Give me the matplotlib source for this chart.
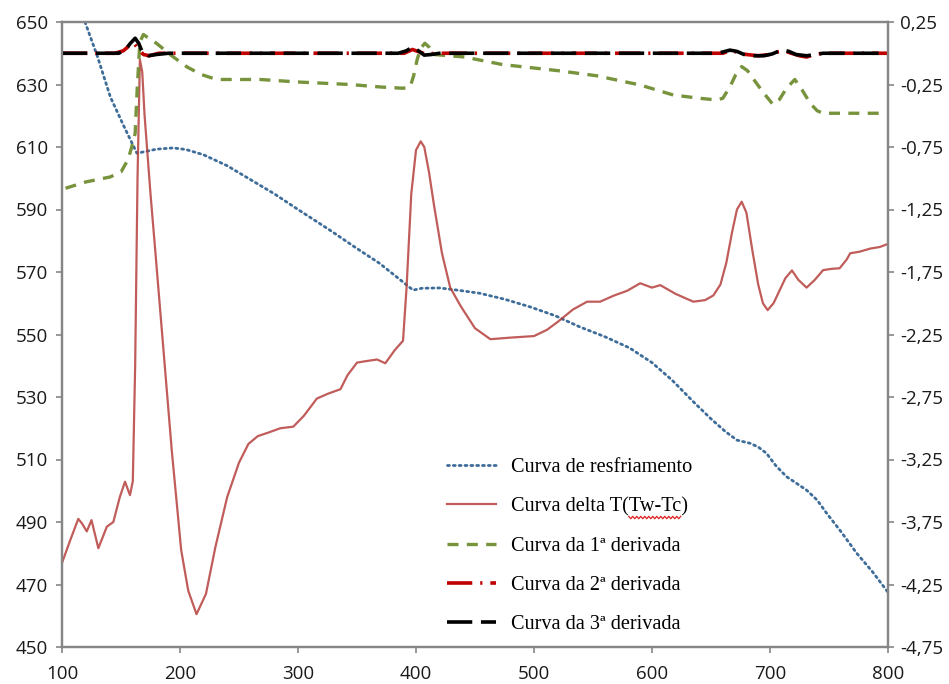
import numpy as np
import matplotlib
matplotlib.use("Agg")
import matplotlib.pyplot as plt
from matplotlib.lines import Line2D
from matplotlib.transforms import IdentityTransform

# --- cooling curve (left axis, temperature) ---
cooling_x = [119.5, 130, 141, 152, 163.5, 170, 180, 194, 205, 220, 240, 260, 280, 300,
             327, 350, 369, 385, 397.5, 405, 420, 435, 454, 475, 497, 518, 539, 560,
             581, 600, 617, 635, 650, 662, 672, 683, 690, 697, 705, 714, 722, 731,
             740, 748, 760, 773.5, 787, 800]
cooling_y = [650, 639, 626, 617, 608, 608.5, 609.3, 609.7, 609.2, 607.5, 604, 599.5, 595, 590,
             583.4, 577.5, 572.8, 568, 564.2, 564.8, 564.9, 564.2, 563.2, 561.3, 558.8, 556, 552.4, 549.3,
             545.7, 541, 535.4, 528.5, 523, 519, 516.2, 515.2, 514, 512, 508, 504.5, 502.5, 500.2,
             497, 492.8, 487, 480, 474, 467.5]

# --- delta T (Tw - Tc) curve (left axis) ---
delta_x = [100, 106.8, 113.8, 117, 121, 125, 130.8, 138, 143.5, 149, 153.4, 157.6, 160, 162,
           164, 166, 168, 170, 175, 179, 186, 193, 201, 207, 214, 222, 230, 240, 250, 258, 266, 274,
           285, 296, 305, 316, 325, 336, 342, 350, 358, 367, 374, 382, 389, 392, 396, 400,
           404, 407, 411, 415, 422, 429, 438, 450, 463, 480, 500, 511, 520, 533, 545, 556,
           568, 579, 590, 600, 607, 620, 635, 645, 652, 658, 663, 668, 672, 676, 680, 685,
           690, 694, 698, 703, 708, 713, 718.6, 724, 731, 738, 745, 752, 759, 765, 768,
           776, 785, 793, 800]
delta_y = [476.9, 484, 491, 489.5, 487, 490.6, 481.6, 488.5, 490, 498, 502.9, 498.6, 503, 540,
           600, 638, 634, 620, 595, 577, 545, 513, 481, 468, 460.5, 467, 482, 498, 509, 515, 517.5, 518.5,
           520, 520.5, 524, 529.5, 531, 532.5, 537, 541, 541.5, 542, 540.8, 545, 548, 565, 595, 609,
           611.8, 610, 602, 592, 576, 565, 559, 552, 548.5, 549, 549.5, 551.5, 554, 558, 560.5, 560.5,
           562.5, 564, 566.4, 565, 565.8, 563, 560.5, 561, 562.5, 566, 573, 583, 590, 592.5, 589, 577,
           566, 560, 557.8, 560, 564, 568, 570.5, 567.5, 565, 567.5, 570.6, 571, 571.2, 574, 576,
           576.5, 577.5, 578, 579]

# --- first derivative (right axis) ---
d1_x = [103, 120, 140.7, 150, 156, 160, 162, 163.6, 166, 169, 172, 180, 193, 206, 218, 231,
        250, 268, 300, 344, 370, 389, 395, 398, 401, 404, 407.5, 411, 415, 441, 473, 521,
        553, 590, 618, 640, 655, 660, 666, 671, 676, 681, 687, 694, 702.5, 708, 714, 721,
        727, 734, 740, 745, 800]
d1_y = [-1.08, -1.03, -0.99, -0.95, -0.85, -0.72, -0.64, -0.31, 0.09, 0.15, 0.13, 0.08, -0.02, -0.11, -0.17, -0.21,
        -0.21, -0.21, -0.23, -0.25, -0.27, -0.28, -0.27, -0.18, -0.05, 0.04, 0.08, 0.05, -0.01, -0.03, -0.09, -0.14,
        -0.18, -0.254, -0.334, -0.36, -0.374, -0.36, -0.27, -0.17, -0.107, -0.14, -0.22, -0.31, -0.41, -0.37, -0.28, -0.21,
        -0.29, -0.40, -0.46, -0.48, -0.48]

# --- second derivative (right axis) ---
d2_x = [100, 145, 152, 157, 161, 165, 169, 174, 182, 190, 390, 397, 403, 409, 416,
        660, 666, 672, 680, 690, 700, 706, 712, 718, 725, 731, 738, 745, 800]
d2_y = [0, 0, 0.02, 0.06, 0.08, 0.03, -0.01, -0.02, 0, 0, 0, 0.03, 0.01, -0.01, 0,
        0, 0.02, 0.01, -0.01, -0.02, -0.01, 0.01, 0.02, 0.0, -0.02, -0.03, -0.01, 0, 0]

# --- third derivative (right axis) ---
d3_x = [100, 148, 153, 158, 162, 165, 168, 173, 180, 190, 385, 392, 397, 402, 407, 413,
        420, 655, 660, 666, 672, 678, 686, 695, 702, 707, 711, 716, 722, 731, 738, 745, 800]
d3_y = [0, 0, 0.02, 0.08, 0.12, 0.08, 0.01, -0.02, -0.01, 0, 0, 0.02, 0.05, 0.02, -0.015, -0.01,
        0, 0, 0.01, 0.025, 0.015, -0.01, -0.02, -0.02, -0.005, 0.015, 0.025, 0.015, -0.01, -0.02, -0.01, 0, 0]

x_ticks = [100, 200, 300, 400, 500, 600, 700, 800]
left_ticks = [450, 470, 490, 510, 530, 550, 570, 590, 610, 630, 650]
right_ticks = [-4.75, -4.25, -3.75, -3.25, -2.75, -2.25, -1.75, -1.25, -0.75, -0.25, 0.25]

labels = ["Curva de resfriamento", "Curva delta T(Tw-Tc)", "Curva da 1ª derivada",
          "Curva da 2ª derivada", "Curva da 3ª derivada"]

W, H = 949, 684
fig = plt.figure(figsize=(W / 100, H / 100), dpi=100)
ax = fig.add_axes([62 / W, 1 - 647 / H, (888 - 62) / W, (647 - 22) / H])
ax2 = ax.twinx()

l1, = ax.plot(cooling_x, cooling_y, color="#3E6D99", lw=2.0, dashes=(0.7, 1.4),
              dash_capstyle="round", label=labels[0])
l2, = ax.plot(delta_x, delta_y, color="#B5403D", lw=1.6, alpha=0.85, label=labels[1])

l3, = ax2.plot(d1_x, d1_y, color="#77933C", lw=2.4, dashes=(3.3, 2.5), label=labels[2])
l4, = ax2.plot(d2_x, d2_y, color="#C00000", lw=2.6, dashes=(7, 2.2, 0.6, 2.2), label=labels[3])
l5, = ax2.plot(d3_x, d3_y, color="#000000", lw=2.6, dashes=(7, 2.4), label=labels[4])

spine_c = "#868686"
tick_font = dict(family="Open Sans", size=13.5)
ax.set_xlim(100, 800)
ax.set_ylim(450, 650)
ax2.set_ylim(-4.75, 0.25)
ax.set_xticks(x_ticks)
ax.set_yticks(left_ticks)
ax2.set_yticks(right_ticks)
ax.set_xticklabels([str(v) for v in x_ticks], **tick_font)
ax.set_yticklabels([str(v) for v in left_ticks], **tick_font)
ax2.set_yticklabels([f"{v:.2f}".replace(".", ",") for v in right_ticks], **tick_font)

for a in (ax, ax2):
    for s in a.spines.values():
        s.set_color(spine_c)
        s.set_linewidth(1.6)
    a.tick_params(colors=spine_c, length=4, width=1.2, direction="out", labelcolor="#1a1a1a")
ax.tick_params(axis="x", pad=9)
ax.tick_params(axis="y", pad=6)
ax2.tick_params(axis="y", pad=5)

leg = ax2.legend(handles=[l1, l2, l3, l4, l5], loc="upper left",
                 bbox_to_anchor=((447 - 62) / 826, (647 - 458) / 625),
                 frameon=False, borderpad=0, borderaxespad=0,
                 prop=dict(family="Liberation Serif", size=14.6),
                 handlelength=2.4, handletextpad=0.75, labelspacing=0.99)

# spell-check squiggle under "Tw-Tc"
fig.canvas.draw()
renderer = fig.canvas.get_renderer()
t = leg.get_texts()[1]
bb = t.get_window_extent(renderer)
fp = t.get_fontproperties()
w_pre, _, _ = renderer.get_text_width_height_descent("Curva delta T(", fp, ismath=False)
w_word, _, _ = renderer.get_text_width_height_descent("Tw-Tc", fp, ismath=False)
x0 = bb.x0 + w_pre
xs = np.arange(x0, x0 + w_word, 2.0)
ys = bb.y0 - 1 + np.where(np.arange(len(xs)) % 2 == 0, 1.2, -1.2)
fig.add_artist(Line2D(xs, ys, transform=IdentityTransform(), color="#E02020", lw=0.9))

fig.savefig("out.png", dpi=100)
